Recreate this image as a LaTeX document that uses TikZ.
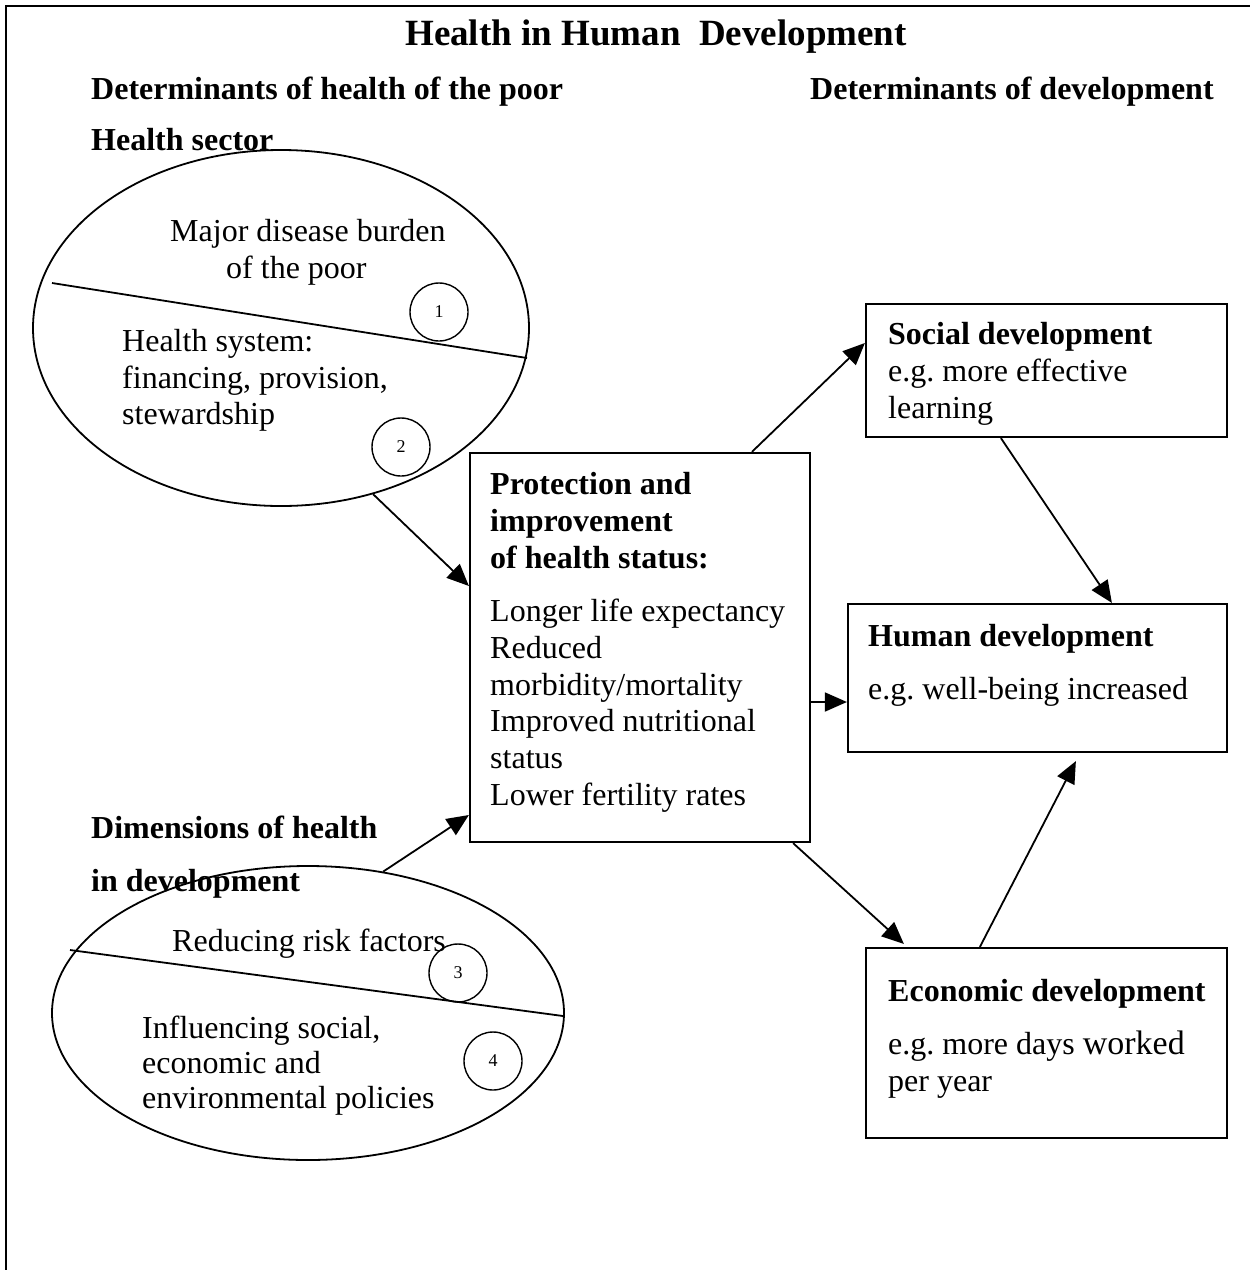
\documentclass[tikz,border=0pt]{standalone}
\usepackage{fontspec}
\setmainfont{Liberation Serif}
\usetikzlibrary{shapes.geometric,arrows.meta,calc}
\begin{document}
\frenchspacing
\begin{tikzpicture}[x=1pt,y=-1pt,
  txt/.style={anchor=base west,inner sep=0pt,align=left,font=\fontsize{32}{37}\selectfont},
  hd/.style={anchor=base west,inner sep=0pt,align=left,font=\fontsize{32}{37}\selectfont\bfseries},
  mtxt/.style={anchor=north west,inner sep=0pt,align=left,font=\fontsize{32}{36.7}\selectfont,execute at begin node=\strut},
  mhd/.style={anchor=north west,inner sep=0pt,align=left,font=\fontsize{32}{37}\selectfont\bfseries,execute at begin node=\strut},
  boxnode/.style={draw,rectangle,line width=2.2pt,inner sep=0pt},
  oval/.style={draw,ellipse,line width=1.8pt,inner sep=0pt},
  num/.style={draw,circle,line width=1.4pt,minimum size=58pt,inner sep=0pt,font=\fontsize{18}{18}\selectfont},
  arr/.style={line width=1.8pt,-{Triangle[length=22pt,width=19pt]}},
  divline/.style={line width=1.8pt}
]
\useasboundingbox (0,0) rectangle (1250,1270);
\draw[line width=2.6pt] (6,1270) -- (6,6) -- (1250,6);

% titles
\node[anchor=base,inner sep=0pt,font=\fontsize{37}{40}\selectfont\bfseries] (title) at (656,45) {Health in Human\ \ Development};
\node[hd] (hleft) at (91,99) {Determinants of health of the poor};
\node[hd] (hright) at (810,99) {Determinants of development};
\node[hd] (hsector) at (91,150) {Health sector};

% ellipse 1
\node[oval,minimum width=496pt,minimum height=356pt] (e1) at (281,328) {};
\draw[divline] (52,283) -- (527,358);
\node[txt] (burden1) at (170,241) {Major disease burden};
\node[txt] (burden2) at (226,278) {of the poor};
\node[mtxt] (system) at (122,329) {Health system:\\financing, provision,\\stewardship};
\node[num] (n1) at (439,312) {1};
\node[num] (n2) at (401,447) {2};

% ellipse 2
\node[hd] (dims) at (91,838) {Dimensions of health};
\node[hd] (dims2) at (91,891) {in development};
\node[oval,minimum width=512pt,minimum height=294pt] (e2) at (308,1013) {};
\draw[divline] (70,950) -- (563,1016);
\node[txt] (risk) at (172,951) {Reducing risk factors};
\node[mtxt,font=\fontsize{32}{35}\selectfont] (influ) at (142,1016) {Influencing social,\\economic and\\environmental policies};
\node[num] (n3) at (458,973) {3};
\node[num] (n4) at (493,1061) {4};

% central box
\node[boxnode,minimum width=340pt,minimum height=389pt] (prot) at (640,647.5) {};
\node[mhd] (prothd) at (490,472) {Protection and\\improvement\\of health status:};
\node[mtxt] (protlist) at (490,599) {Longer life expectancy\\Reduced\\morbidity/mortality\\Improved nutritional\\status\\Lower fertility rates};

% right boxes
\node[boxnode,minimum width=361pt,minimum height=133pt] (social) at (1046.5,370.5) {};
\node[hd] (socialhd) at (888,344) {Social development};
\node[mtxt] (socialtx) at (888,359) {e.g. more effective\\learning};

\node[boxnode,minimum width=379pt,minimum height=148pt] (human) at (1037.5,678) {};
\node[hd] (humanhd) at (868,646) {Human development};
\node[txt] (humantx) at (868,699) {e.g. well-being increased};

\node[boxnode,minimum width=361pt,minimum height=190pt] (econ) at (1046.5,1043) {};
\node[hd] (econhd) at (888,1001) {Economic development};
\node[mtxt] (econtx) at (888,1031) {e.g. more days {\fontsize{34}{37}\selectfont worked}\\per year};

% connectors
\draw[arr] (e1.-61) -- ([yshift=61.5pt]prot.west);
\draw[arr] (e2.62) -- ([yshift=-167.5pt]prot.west);
\draw[arr] ([xshift=283pt]prot.north west) -- ([yshift=27.5pt]social.west);
\draw[arr] ([xshift=136pt]social.south west) -- ([xshift=265pt]human.north west);
\draw[arr] ([yshift=-54.5pt]prot.east) -- ([yshift=-24pt]human.west);
\draw[arr] ([xshift=-18pt]prot.south east) -- ([xshift=39pt,yshift=3pt]econ.north west);
\draw[arr] ([xshift=115pt]econ.north west) -- ([xshift=229pt,yshift=-8pt]human.south west);
\end{tikzpicture}
\end{document}
